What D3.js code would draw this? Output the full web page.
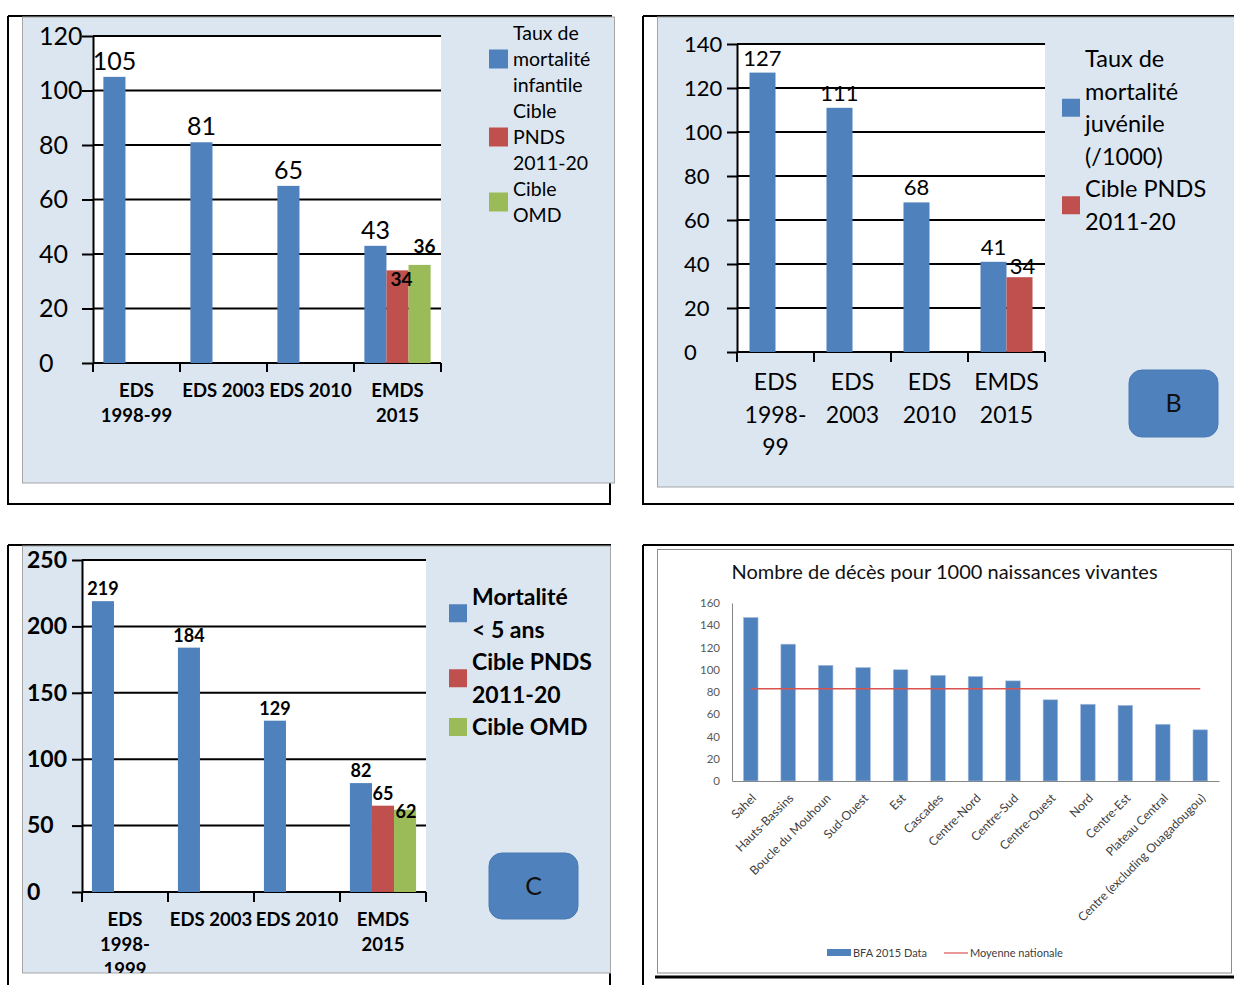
<!DOCTYPE html>
<html><head><meta charset="utf-8">
<script src="https://cdn.jsdelivr.net/npm/d3@7"></script>
<style>html,body{margin:0;padding:0;background:#fff}svg{display:block}</style>
</head><body>
<svg id="c" width="1234" height="985"></svg>
<script>
// ================= DATA =================
// Panel A : mortalité infantile
const catsA = [["EDS","1998-99"],["EDS 2003"],["EDS 2010"],["EMDS","2015"]];
const infantile = [105, 81, 65, 43];
const pndsInfantile = [null, null, null, 34];
const omdInfantile = [null, null, null, 36];
const ticksA = [0, 20, 40, 60, 80, 100, 120];
const legendA = [["Taux de","mortalité","infantile"],["Cible","PNDS","2011-20"],["Cible","OMD"]];

// Panel B : mortalité juvénile
const catsB = [["EDS","1998-","99"],["EDS","2003"],["EDS","2010"],["EMDS","2015"]];
const juvenile = [127, 111, 68, 41];
const pndsJuvenile = [null, null, null, 34];
const ticksB = [0, 20, 40, 60, 80, 100, 120, 140];
const legendB = [["Taux de","mortalité","juvénile","(/1000)"],["Cible PNDS","2011-20"]];

// Panel C : mortalité < 5 ans
const catsC = [["EDS","1998-","1999"],["EDS 2003"],["EDS 2010"],["EMDS","2015"]];
const moins5 = [219, 184, 129, 82];
const pnds5 = [null, null, null, 65];
const omd5 = [null, null, null, 62];
const ticksC = [0, 50, 100, 150, 200, 250];
const legendC = [["Mortalité","< 5 ans"],["Cible PNDS","2011-20"],["Cible OMD"]];

// Panel D : régions
const titleD = "Nombre de décès pour 1000 naissances vivantes";
const regions = ["Sahel","Hauts-Bassins","Boucle du Mouhoun","Sud-Ouest","Est","Cascades","Centre-Nord","Centre-Sud","Centre-Ouest","Nord","Centre-Est","Plateau Central","Centre (excluding Ouagadougou)"];
const bfa2015 = [147, 123, 104, 102, 100, 95, 94, 90, 73, 69, 68, 51, 46];
const moyenneNationale = [83, 83, 83, 83, 83, 83, 83, 83, 83, 83, 83, 83, 83];
const ticksD = [0, 20, 40, 60, 80, 100, 120, 140, 160];
const legendD = ["BFA 2015 Data", "Moyenne nationale"];

// ================= STYLE =================
const BLUE = "#4f81bd", RED = "#c0504d", GREEN = "#9bbb59", PANEL = "#dce6f1";
const FONT = "Lato, 'Open Sans', sans-serif";
const svg = d3.select("#c");

function frame(d, w) {
  svg.append("path").attr("d", d).attr("fill", "none").attr("stroke", "#000").attr("stroke-width", w || 2);
}
function panelFill(x, y, w, h) {
  svg.append("rect").attr("x", x).attr("y", y).attr("width", w).attr("height", h)
    .attr("fill", PANEL).attr("stroke", "#a6a6a6").attr("stroke-width", 1);
}

function barPanel(o) {
  const g = svg.append("g");
  if (o.clip) {
    const id = "clip" + Math.round(o.x0);
    svg.append("clipPath").attr("id", id).append("rect")
      .attr("x", o.clip[0]).attr("y", o.clip[1]).attr("width", o.clip[2]).attr("height", o.clip[3]);
    g.attr("clip-path", `url(#${id})`);
  }
  const n = o.cats.length;
  const x = d3.scaleBand().domain(d3.range(n)).range([o.x0, o.x1]);
  const y = d3.scaleLinear().domain([0, o.yMax]).range([o.yBot, o.yTop]);
  const xs = d3.scaleBand().domain(d3.range(o.series.length)).range([0, x.bandwidth()]).paddingOuter(o.padOuter);

  g.append("rect").attr("x", o.x0).attr("y", o.yTop).attr("width", o.x1 - o.x0).attr("height", o.yBot - o.yTop).attr("fill", "#fff");

  // gridlines
  g.append("g").selectAll("line").data(o.ticks).join("line")
    .attr("x1", o.x0).attr("x2", o.x1).attr("y1", d => y(d)).attr("y2", d => y(d))
    .attr("stroke", "#000").attr("stroke-width", 2);

  // bars
  o.series.forEach((s, si) => {
    const pts = s.values.map((v, i) => ({ v, i })).filter(d => d.v != null);
    g.append("g").selectAll("rect").data(pts).join("rect")
      .attr("x", d => x(d.i) + xs(si)).attr("width", xs.bandwidth())
      .attr("y", d => y(d.v)).attr("height", d => y(0) - y(d.v))
      .attr("fill", s.color);
  });

  // y axis (labels left-aligned like the original)
  const ax = g.append("g").attr("transform", `translate(${o.x0},0)`)
    .call(d3.axisLeft(y).tickValues(o.ticks).tickSize(o.tickLen).tickSizeOuter(0).tickFormat(d3.format("d")));
  ax.select(".domain").attr("stroke", "#000").attr("stroke-width", 2);
  ax.selectAll(".tick line").attr("stroke", "#000").attr("stroke-width", 2);
  ax.selectAll(".tick text").attr("font-family", FONT).attr("font-size", o.tickFont)
    .attr("font-weight", o.tickWeight).attr("fill", "#000")
    .attr("text-anchor", "start").attr("x", o.tickLabelX - o.x0);

  // category boundary ticks
  g.append("g").selectAll("line").data(d3.range(n + 1)).join("line")
    .attr("x1", i => i < n ? x(i) : o.x1).attr("x2", i => i < n ? x(i) : o.x1)
    .attr("y1", o.yBot).attr("y2", o.yBot + o.catTick)
    .attr("stroke", "#000").attr("stroke-width", 2);

  // data labels
  o.series.forEach((s, si) => {
    const pts = s.values.map((v, i) => ({ v, i })).filter(d => d.v != null);
    g.append("g").selectAll("text").data(pts).join("text")
      .attr("x", d => x(d.i) + xs(si) + xs.bandwidth() / 2 + s.ldx)
      .attr("y", d => y(d.v) + s.ldy)
      .attr("text-anchor", "middle").attr("font-family", FONT)
      .attr("font-size", s.lfont).attr("font-weight", s.lweight).attr("fill", "#000")
      .text(d => d.v);
  });

  // category labels
  o.cats.forEach((lines, i) => {
    const t = g.append("text").attr("text-anchor", "middle").attr("font-family", FONT)
      .attr("font-size", o.catFont).attr("font-weight", o.catWeight).attr("fill", "#000");
    lines.forEach((ln, k) => {
      t.append("tspan").attr("x", x(i) + x.bandwidth() / 2).attr("y", o.catY0 + k * o.catLH).attr("dy", "0.35em").text(ln);
    });
  });
}

function legend(o) {
  let line = 0;
  o.items.forEach((lines, i) => {
    const c0 = o.y0 + line * o.lh;
    const mid = c0 + (lines.length - 1) * o.lh / 2;
    svg.append("rect").attr("x", o.sx).attr("y", mid - o.ss / 2).attr("width", o.ss).attr("height", o.ss).attr("fill", o.colors[i]);
    const t = svg.append("text").attr("font-family", FONT).attr("font-size", o.font).attr("font-weight", o.weight).attr("fill", "#000");
    lines.forEach((ln, k) => {
      t.append("tspan").attr("x", o.tx).attr("y", c0 + k * o.lh).attr("dy", "0.35em").text(ln);
    });
    line += lines.length;
  });
}

function button(x, y, w, h, label) {
  svg.append("rect").attr("x", x).attr("y", y).attr("width", w).attr("height", h).attr("rx", 13)
    .attr("fill", BLUE).attr("stroke", "#4a7ab3").attr("stroke-width", 1);
  svg.append("text").attr("x", x + w / 2).attr("y", y + h / 2).attr("dy", "0.35em").attr("text-anchor", "middle")
    .attr("font-family", FONT).attr("font-size", 25).attr("fill", "#111").text(label);
}

// ================= PANEL A =================
frame("M8,16H612M8,16V504H610V483");
panelFill(22.5, 17, 592, 466);
barPanel({
  cats: catsA, x0: 93, x1: 441, yTop: 36, yBot: 363, yMax: 120, ticks: ticksA,
  padOuter: 0.47, tickLen: 11, tickLabelX: 39, tickFont: 25, tickWeight: 400,
  catTick: 9, catFont: 18.5, catWeight: 700, catY0: 391, catLH: 25,
  series: [
    { values: infantile, color: BLUE, ldx: 0, ldy: -7, lfont: 25, lweight: 400 },
    { values: pndsInfantile, color: RED, ldx: 4, ldy: 16, lfont: 19, lweight: 700 },
    { values: omdInfantile, color: GREEN, ldx: 5, ldy: -12, lfont: 19, lweight: 700 }
  ]
});
legend({ items: legendA, colors: [BLUE, RED, GREEN], sx: 489, ss: 19, tx: 513, y0: 33, lh: 26, font: 19.5, weight: 400 });

// ================= PANEL B =================
frame("M643,16H1234M643,16V504H1234");
panelFill(657.5, 17, 580, 470);
barPanel({
  cats: catsB, x0: 737, x1: 1045, yTop: 44, yBot: 352, yMax: 140, ticks: ticksB,
  padOuter: 0.48, tickLen: 10, tickLabelX: 684, tickFont: 22, tickWeight: 400,
  catTick: 10, catFont: 23, catWeight: 400, catY0: 382, catLH: 32.5,
  series: [
    { values: juvenile, color: BLUE, ldx: 0, ldy: -7, lfont: 22, lweight: 400 },
    { values: pndsJuvenile, color: RED, ldx: 3, ldy: -3, lfont: 22, lweight: 400 }
  ]
});
legend({ items: legendB, colors: [BLUE, RED], sx: 1062, ss: 18, tx: 1085, y0: 59, lh: 32.5, font: 23.5, weight: 400 });
button(1129, 370, 89, 67, "B");

// ================= PANEL C =================
frame("M8,545H611M8,545V985M610,545V985");
panelFill(22.5, 546, 588, 427);
barPanel({
  cats: catsC, x0: 82, x1: 426, yTop: 560, yBot: 892, yMax: 250, ticks: ticksC,
  padOuter: 0.45, tickLen: 10, tickLabelX: 27, tickFont: 23, tickWeight: 700,
  catTick: 10, catFont: 18.5, catWeight: 700, catY0: 920, catLH: 25,
  clip: [0, 540, 615, 433],
  series: [
    { values: moins5, color: BLUE, ldx: 0, ldy: -6, lfont: 18, lweight: 700 },
    { values: pnds5, color: RED, ldx: 0, ldy: -6, lfont: 18, lweight: 700 },
    { values: omd5, color: GREEN, ldx: 1, ldy: 8, lfont: 18, lweight: 700 }
  ]
});
legend({ items: legendC, colors: [BLUE, RED, GREEN], sx: 449, ss: 18, tx: 472, y0: 597, lh: 32.5, font: 23, weight: 700 });
button(489, 853, 89, 66, "C");

// ================= PANEL D =================
frame("M643,545H1234M643,545V985");
svg.append("rect").attr("x", 657.5).attr("y", 549.5).attr("width", 574).attr("height", 423.5)
  .attr("fill", "#fff").attr("stroke", "#8c8c8c").attr("stroke-width", 1);
frame("M655,977H1234", 3);

svg.append("text").attr("x", 944.5).attr("y", 572).attr("dy", "0.35em").attr("text-anchor", "middle")
  .attr("font-family", FONT).attr("font-size", 20).attr("fill", "#111").text(titleD);

const xD = d3.scaleBand().domain(regions).range([732, 1219]).paddingInner(0.61).paddingOuter(0.305);
const yD = d3.scaleLinear().domain([0, 160]).range([781, 603]);

const gD = svg.append("g");
gD.append("g").selectAll("rect").data(bfa2015).join("rect")
  .attr("x", (d, i) => xD(regions[i])).attr("width", xD.bandwidth())
  .attr("y", d => yD(d)).attr("height", d => yD(0) - yD(d))
  .attr("fill", BLUE).attr("stroke", "#a9c1df").attr("stroke-width", 0.6);

const axD = gD.append("g").attr("transform", "translate(732,0)")
  .call(d3.axisLeft(yD).tickValues(ticksD).tickSize(0).tickSizeOuter(0).tickPadding(12));
axD.select(".domain").attr("stroke", "#868686");
axD.selectAll(".tick text").attr("font-family", FONT).attr("font-size", 11.5).attr("fill", "#595959");

const axX = gD.append("g").attr("transform", "translate(0,781)")
  .call(d3.axisBottom(xD).tickSize(0).tickSizeOuter(0).tickFormat(""));
axX.select(".domain").attr("stroke", "#868686");

gD.append("path").datum(moyenneNationale)
  .attr("d", d3.line().x((d, i) => xD(regions[i]) + xD.bandwidth() / 2).y(d => yD(d)))
  .attr("fill", "none").attr("stroke", "#d9534f").attr("stroke-width", 1.5);

gD.append("g").selectAll("text").data(regions).join("text")
  .attr("transform", d => `translate(${xD(d) + xD.bandwidth() / 2 + 6},799) rotate(-45)`)
  .attr("text-anchor", "end").attr("font-family", FONT).attr("font-size", 12.2).attr("fill", "#404040")
  .text(d => d);

// legend D
svg.append("rect").attr("x", 827).attr("y", 949).attr("width", 24).attr("height", 7).attr("fill", BLUE);
svg.append("text").attr("x", 853).attr("y", 953).attr("dy", "0.35em").attr("font-family", FONT)
  .attr("font-size", 11).attr("fill", "#404040").text(legendD[0]);
svg.append("line").attr("x1", 944).attr("x2", 968).attr("y1", 953).attr("y2", 953).attr("stroke", "#d9534f").attr("stroke-width", 1.2);
svg.append("text").attr("x", 970).attr("y", 953).attr("dy", "0.35em").attr("font-family", FONT)
  .attr("font-size", 11).attr("fill", "#404040").text(legendD[1]);
</script>
</body></html>
